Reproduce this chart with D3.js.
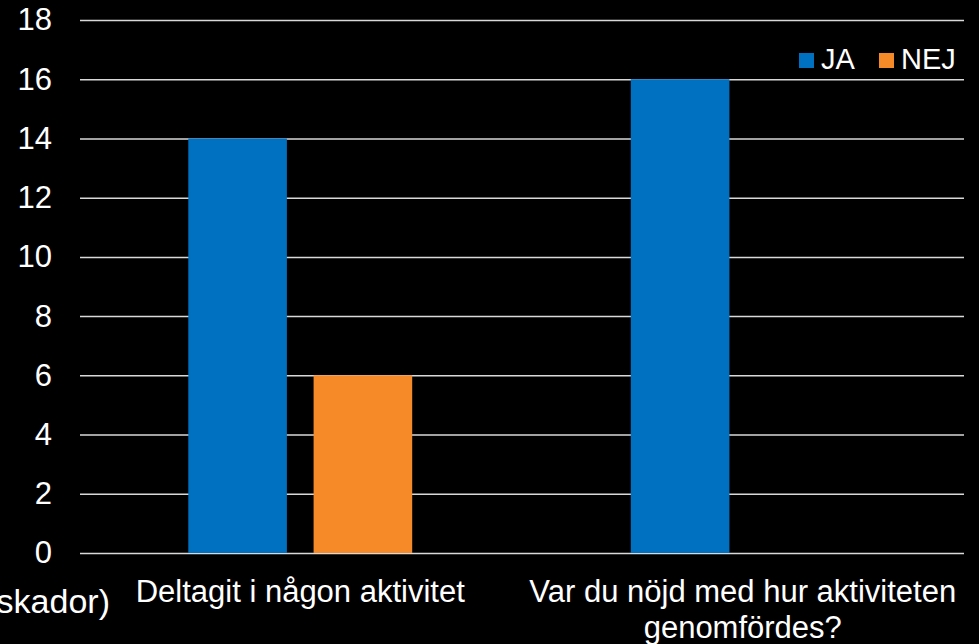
<!DOCTYPE html>
<html>
<head>
<meta charset="utf-8">
<script src="https://cdn.jsdelivr.net/npm/d3@7"></script>
<style>
  html, body { margin: 0; padding: 0; background: #000; }
  svg { display: block; font-family: "Liberation Sans", Arial, sans-serif; }
</style>
</head>
<body>
<svg width="979" height="644"></svg>
<script>
// данные графика
const categories = ["Tillbud (utan personskador)", "Deltagit i någon aktivitet", "Var du nöjd med hur aktiviteten genomfördes?"];
const categoryLines = [
    ["Tillbud (utan personskador)"],
    ["Deltagit i någon aktivitet"],
    ["Var du nöjd med hur aktiviteten", "genomfördes?"]
];
const seriesNames = ["JA", "NEJ"];
const jaValues = [null, 14, 16];
const nejValues = [null, 6, 0];
const yTicks = [0, 2, 4, 6, 8, 10, 12, 14, 16, 18];
const colors = ["#0070C0", "#F68A28"];

const svg = d3.select("svg");
const area = { left: 80, right: 964, top: 20, bottom: 553, plotStart: -363.5 };

svg.append("rect").attr("width", 979).attr("height", 644).attr("fill", "#000");

// шкалы
const scaleX = d3.scaleBand()
    .domain(categories)
    .range([area.plotStart, area.right]);

const scaleY = d3.scaleLinear()
    .domain([0, 18])
    .range([area.bottom, area.top]);

const groupW = scaleX.bandwidth() * 0.506;
const scaleSub = d3.scaleBand()
    .domain(seriesNames)
    .range([(scaleX.bandwidth() - groupW) / 2, (scaleX.bandwidth() + groupW) / 2])
    .paddingInner(0.213);

// ось Y с линиями сетки
const axisY = d3.axisLeft(scaleY)
    .tickValues(yTicks)
    .tickSize(-(area.right - area.left))
    .tickPadding(28);

const gY = svg.append("g")
    .attr("transform", `translate(${area.left}, 0)`)
    .call(axisY);
gY.select(".domain").remove();
gY.selectAll("line").attr("stroke", "#d9d9d9").attr("stroke-width", 1.5);
gY.selectAll("text")
    .attr("fill", "#fff")
    .style("font-size", "31px")
    .style("font-family", "'Liberation Sans', Arial, sans-serif");

// столбцы
const rows = categories.map((c, i) => ({ cat: c, values: [jaValues[i], nejValues[i]] }));
rows.forEach(row => {
    row.values.forEach((v, j) => {
        if (v == null || v <= 0) return;
        svg.append("rect")
            .attr("x", scaleX(row.cat) + scaleSub(seriesNames[j]))
            .attr("y", scaleY(v))
            .attr("width", scaleSub.bandwidth())
            .attr("height", scaleY(0) - scaleY(v))
            .attr("fill", colors[j]);
    });
});

// подписи категорий
categories.forEach((c, i) => {
    const cx = scaleX(c) + scaleX.bandwidth() / 2;
    if (i === 0) {
        // первая категория почти целиком за левым краем
        svg.append("text")
            .attr("x", scaleX(c) + scaleX.bandwidth() + 31)
            .attr("y", 613)
            .attr("text-anchor", "end")
            .attr("fill", "#fff")
            .style("font-size", "34px")
            .text(categoryLines[i][0]);
        return;
    }
    categoryLines[i].forEach((line, k) => {
        svg.append("text")
            .attr("x", cx)
            .attr("y", 602 + k * 36)
            .attr("text-anchor", "middle")
            .attr("fill", "#fff")
            .style("font-size", "31px")
            .text(line);
    });
});

// легенда
const legendPos = [799, 879];
seriesNames.forEach((s, j) => {
    svg.append("rect")
        .attr("x", legendPos[j]).attr("y", 53)
        .attr("width", 15).attr("height", 15)
        .attr("fill", colors[j]);
    svg.append("text")
        .attr("x", legendPos[j] + 22).attr("y", 69)
        .attr("fill", "#fff")
        .style("font-size", "29px")
        .text(s);
});
</script>
</body>
</html>
